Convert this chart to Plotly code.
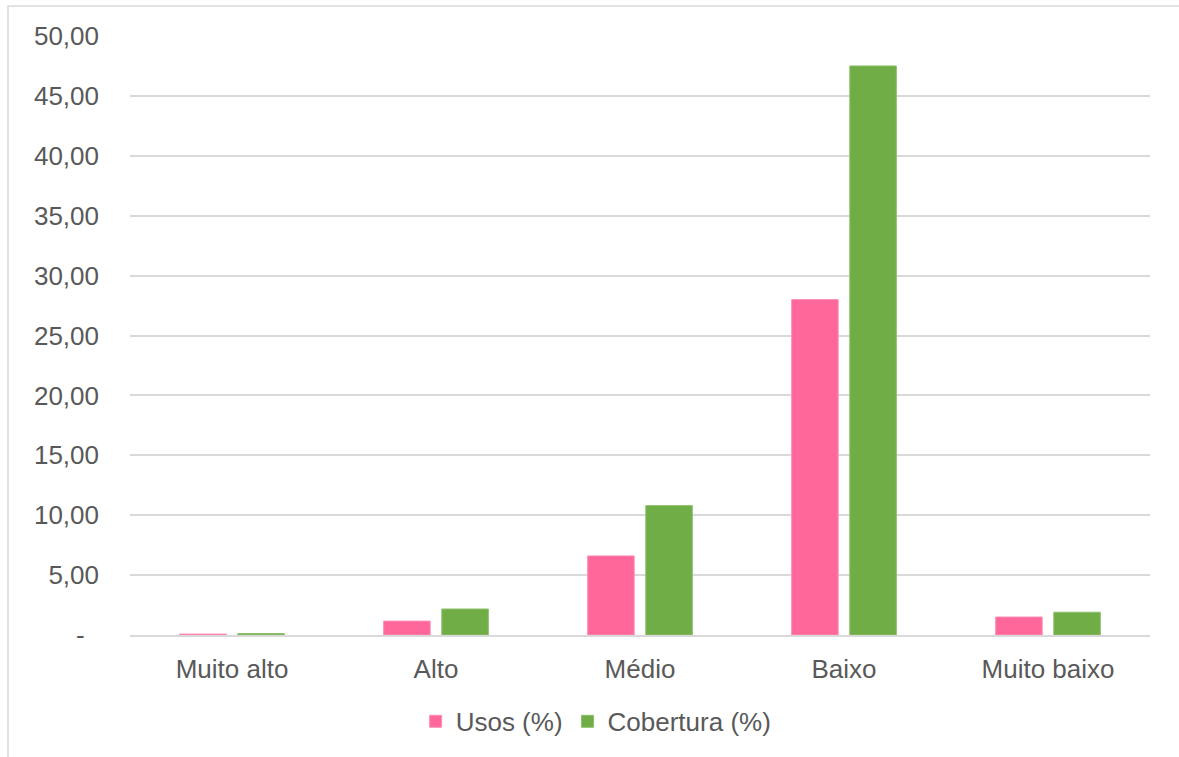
import plotly.graph_objects as go

categories = ["Muito alto", "Alto", "Médio", "Baixo", "Muito baixo"]
usos = [0.08, 1.16, 6.6, 28.0, 1.5]
cobertura = [0.12, 2.17, 10.8, 47.5, 1.9]
tick_vals = [0, 5, 10, 15, 20, 25, 30, 35, 40, 45, 50]
tick_text = ["-\u00a0\u00a0", "5,00", "10,00", "15,00", "20,00", "25,00", "30,00",
             "35,00", "40,00", "45,00", "50,00"]

PINK = "#FF6699"
GREEN = "#70AD47"
FONT = "Liberation Sans, Arial, sans-serif"
TXT = "#595959"

fig = go.Figure()
fig.add_trace(go.Bar(name="Usos (%)", x=categories, y=usos,
                     marker=dict(color=PINK, line=dict(color="#FF8FB4", width=1))))
fig.add_trace(go.Bar(name="Cobertura (%)", x=categories, y=cobertura,
                     marker=dict(color=GREEN, line=dict(color="#8CC06A", width=1))))

fig.update_layout(
    width=1179, height=757,
    margin=dict(l=130, r=29, t=36, b=120),
    paper_bgcolor="white", plot_bgcolor="white",
    barmode="group", bargap=0.43, bargroupgap=0.2,
    font=dict(family=FONT, size=26, color=TXT),
    showlegend=True,
    legend=dict(orientation="h", x=0.457, xanchor="center", y=-0.105, yanchor="top",
                font=dict(family=FONT, size=26, color=TXT), itemwidth=30,
                traceorder="normal"),
    xaxis=dict(showgrid=False, showline=True, linecolor="#d9d9d9", linewidth=2,
               ticks="", ticklabelstandoff=10,
               tickfont=dict(family=FONT, size=26, color=TXT)),
    yaxis=dict(range=[0, 50], tickvals=tick_vals, ticktext=tick_text,
               showgrid=True, gridcolor="#d9d9d9", gridwidth=1.5,
               zeroline=False, showline=False, ticks="",
               ticklabelstandoff=30,
               tickfont=dict(family=FONT, size=26, color=TXT)),
    shapes=[dict(type="rect", xref="paper", yref="paper",
                 x0=(8 - 130) / 1020, x1=1.2, y0=-0.3, y1=(637 - 6) / 601,
                 line=dict(color="#d9d9d9", width=1.5), fillcolor="rgba(0,0,0,0)",
                 layer="below")],
)

fig.write_html("out.html")
